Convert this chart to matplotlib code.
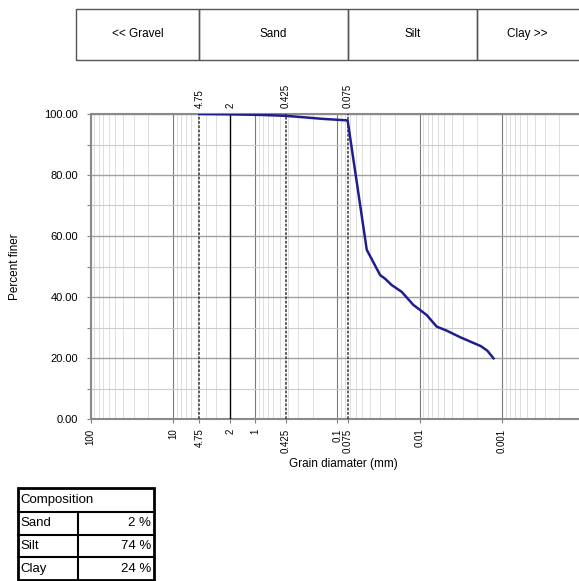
import numpy as np
import matplotlib
matplotlib.use('Agg')
import matplotlib.pyplot as plt
from matplotlib.patches import Rectangle
from matplotlib.ticker import FixedLocator, LogLocator, NullFormatter
import matplotlib.transforms as mtransforms

plt.rcParams['font.family'] = ['Liberation Sans', 'DejaVu Sans']

# grain size distribution
diam = [4.75, 2.0, 0.85, 0.425, 0.25, 0.15, 0.075, 0.0439, 0.0302, 0.0263,
        0.0218, 0.0165, 0.0119, 0.0082, 0.0062, 0.0047, 0.0032, 0.0018,
        0.0015, 0.00126]
finer = [100.0, 99.9, 99.7, 99.4, 98.9, 98.4, 97.9, 55.5, 47.2, 46.0,
         43.9, 41.7, 37.4, 34.1, 30.3, 29.0, 26.8, 23.9, 22.4, 19.9]

sieves = [4.75, 2, 0.425, 0.075]
sieve_styles = ['dash', 'solid', 'dash', 'dash']
xticks = [100, 10, 4.75, 2, 1, 0.425, 0.1, 0.075, 0.01, 0.001]
xticklabels = ['100', '10', '4.75', '2', '1', '0.425', '0.1', '0.075', '0.01', '0.001']

zones = ['<< Gravel', 'Sand', 'Silt', 'Clay >>']
zone_edges = [150, 4.75, 0.075, 0.002, 0.00005]

comp_names = ['Sand', 'Silt', 'Clay']
comp_vals = [2, 74, 24]

W, H = 579, 581
fig = plt.figure(figsize=(W / 100, H / 100), dpi=100)


def fx(px):
    return px / W


def fy(py):
    return 1 - py / H


ax = fig.add_axes([fx(90.7), fy(419), (584 - 90.7) / W, (419 - 114) / H])
ax.set_xscale('log')
ax.set_xlim(100, 1e-4)
ax.set_ylim(0, 100)

# grid
ax.xaxis.set_major_locator(FixedLocator(xticks))
ax.set_xticklabels(xticklabels, rotation=90, fontsize=7, va='top')
ax.xaxis.set_minor_locator(LogLocator(base=10, subs=np.arange(2, 10)))
ax.xaxis.set_minor_formatter(NullFormatter())
for d in [100, 10, 1, 0.1, 0.01, 0.001, 0.0001]:
    ax.axvline(d, color='#7a7a7a', lw=0.8, zorder=1)
ax.grid(True, which='minor', axis='x', color='#dedede', lw=0.7, zorder=0)
ax.set_yticks(np.arange(0, 101, 20))
ax.set_yticks(np.arange(10, 100, 20), minor=True)
ax.set_yticklabels(['%.2f' % v for v in np.arange(0, 101, 20)], fontsize=8)
ax.grid(True, which='major', axis='y', color='#a0a0a0', lw=1.0, zorder=0)
ax.grid(True, which='minor', axis='y', color='#cccccc', lw=0.8, zorder=0)
ax.tick_params(axis='both', which='both', color='#808080', length=3, width=0.8)
ax.tick_params(axis='x', which='minor', length=0)
ax.tick_params(axis='y', pad=6)
ax.tick_params(axis='x', pad=4)

for s in ax.spines.values():
    s.set_color('#8a8a8a')
    s.set_linewidth(1.5)
ax.spines['right'].set_visible(False)

# sieve lines
for d, st in zip(sieves, sieve_styles):
    if st == 'solid':
        ax.axvline(d, color='black', lw=1.0, zorder=3)
    else:
        ax.axvline(d, color='#333333', lw=1.1, ls=(0, (1.8, 1.0)), zorder=3)
    ax.text(d, 1.02, str(d), transform=mtransforms.blended_transform_factory(ax.transData, ax.transAxes),
            rotation=90, ha='center', va='bottom', fontsize=7)

ax.plot(diam, finer, color='#1e1e8c', lw=1.8, zorder=4)

ax.text((343 - 90.7) / (584 - 90.7), -(464 - 419) / 305, 'Grain diamater (mm)',
        transform=ax.transAxes, ha='center', va='center', fontsize=8.5)
fig.text(fx(15), fy(267), 'Percent finer', rotation=90, ha='center', va='center', fontsize=8.5)

# zone header boxes
btr = mtransforms.blended_transform_factory(ax.transData, fig.transFigure)
for name, a, b in zip(zones, zone_edges[:-1], zone_edges[1:]):
    r = Rectangle((a, fy(60)), b - a, fy(8.5) - fy(60), transform=btr, fill=False,
                  edgecolor='#555555', lw=1.0, clip_on=False)
    ax.add_patch(r)
    xm = np.sqrt(a * 0.00012) if name.startswith('Clay') else np.sqrt(a * b)
    ax.text(xm, fy(34), name, transform=btr, ha='center', va='center', fontsize=8.5,
            clip_on=False)

# composition table
tl, tr, tc = 17.7, 154, 77.7
rows = [487.7, 511.7, 535, 557.3, 580]
ft = fig.transFigure
fig.patches.append(Rectangle((fx(tl), fy(rows[-1])), fx(tr) - fx(tl), fy(rows[0]) - fy(rows[-1]),
                             transform=ft, fill=False, edgecolor='black', lw=2))
for y in rows[1:-1]:
    fig.add_artist(plt.Line2D([fx(tl), fx(tr)], [fy(y), fy(y)], transform=ft, color='black', lw=1.5))
fig.add_artist(plt.Line2D([fx(tc), fx(tc)], [fy(rows[1]), fy(rows[-1])], transform=ft, color='black', lw=1.5))
fig.text(fx(tl + 3), fy((rows[0] + rows[1]) / 2), 'Composition', ha='left', va='center', fontsize=9.5)
for i, (n, v) in enumerate(zip(comp_names, comp_vals)):
    yc = fy((rows[i + 1] + rows[i + 2]) / 2)
    fig.text(fx(tl + 3), yc, n, ha='left', va='center', fontsize=9.5)
    fig.text(fx(tr - 3), yc, '%d %%' % v, ha='right', va='center', fontsize=9.5)

fig.savefig('out.png', dpi=100)
